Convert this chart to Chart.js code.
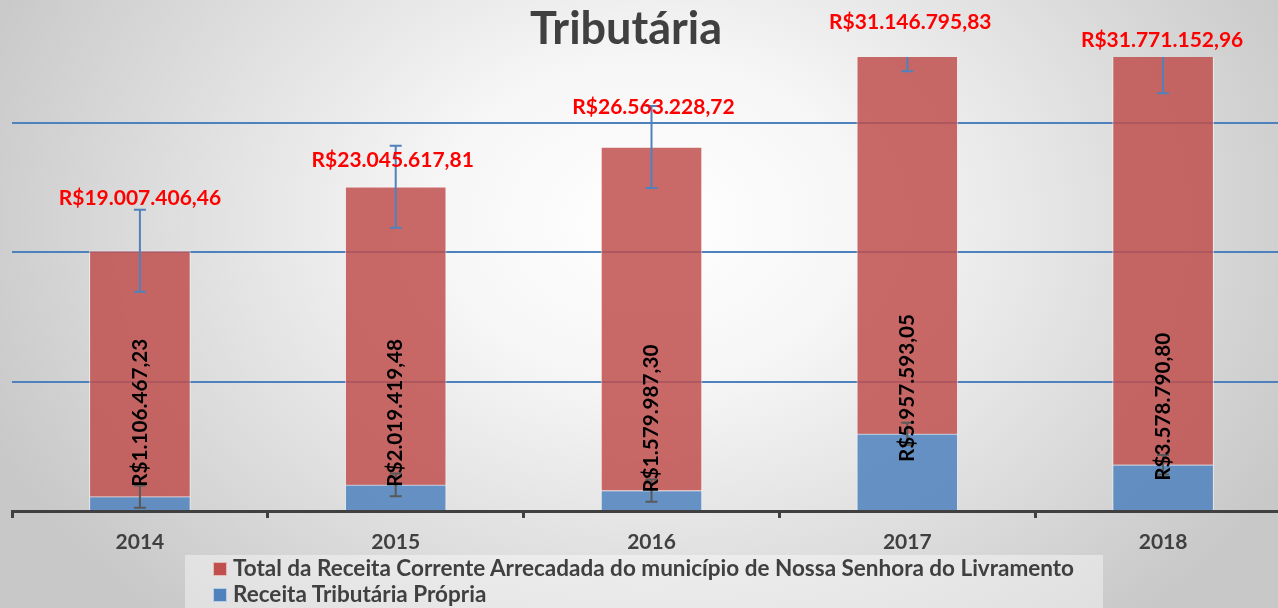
<!DOCTYPE html>
<html>
<head>
<meta charset="utf-8">
<script src="https://cdn.jsdelivr.net/npm/chart.js@4.4.1/dist/chart.umd.min.js"></script>
<style>
  html, body { margin: 0; padding: 0; width: 1278px; height: 608px; overflow: hidden; }
  body {
    position: relative;
    font-family: Lato, "Open Sans", sans-serif;
    background: radial-gradient(ellipse 720px 540px at 650px 220px, #ffffff 0%, #f6f6f6 30%, #c8c8c8 100%);
  }
  #wrap { position: absolute; left: 0; top: 0; width: 1300px; height: 608px; }
  #title {
    position: absolute; left: 0; top: 5px; width: 1252px; text-align: center;
    font: bold 45px/45px Lato, sans-serif; color: #404040;
  }
  #legend {
    position: absolute; left: 185px; top: 555px; width: 918px; height: 60px;
    background: rgba(255, 255, 255, 0.4);
    font: bold 22.5px/26px Lato, sans-serif; color: #404040;
  }
  #legend div { position: relative; padding-left: 48px; white-space: nowrap; }
  #legend span {
    position: absolute; left: 28px; top: 7px; width: 14px; height: 14px;
    box-sizing: border-box; border: 1px solid rgba(255, 255, 255, 0.6);
  }
</style>
</head>
<body>
<div id="wrap"><canvas id="chart"></canvas></div>
<div id="title">Tributária</div>
<div id="legend"></div>
<script>
// valores
const years = ["2014", "2015", "2016", "2017", "2018"]
const receitaTotal = [19007406.46, 23045617.81, 26563228.72, 31146795.83, 31771152.96]
const receitaPropria = [1106467.23, 2019419.48, 1579987.30, 5957593.05, 3578790.80]
const erroTotal = [3170000, 3170000, 3170000, 3100000, 3050000]
const erroPropria = [860000, 880000, 860000, 860000, 760000]
const gridValues = [0, 10000000, 20000000, 30000000]

const nomeTotal = "Total da Receita Corrente Arrecadada do município de Nossa Senhora do Livramento"
const nomePropria = "Receita Tributária Própria"

// label tweaks (px), the original chart had them nudged by hand
const redLabelShift = [[0, -53], [-3, -27], [2, -40], [3, -9], [-1, -14]]
const blackLabelShift = [-10, 2, 2, 28, 16]

function brl(v) {
  const parts = v.toFixed(2).split(".")
  const inteiro = parts[0].replace(/\B(?=(\d{3})+(?!\d))/g, ".")
  return "R$" + inteiro + "," + parts[1]
}

function drawErr(ctx, cx, yScale, value, err, color) {
  const top = yScale.getPixelForValue(value + err)
  const bot = yScale.getPixelForValue(value - err)
  ctx.strokeStyle = color
  ctx.beginPath()
  ctx.moveTo(cx, top); ctx.lineTo(cx, bot)
  ctx.moveTo(cx - 6, top); ctx.lineTo(cx + 6, top)
  ctx.moveTo(cx - 6, bot); ctx.lineTo(cx + 6, bot)
  ctx.stroke()
}

const extras = {
  id: "extras",
  afterDatasetsDraw(chart) {
    const { ctx, chartArea, scales: { x, y } } = chart

    // error bars, clipped like in the original
    ctx.save()
    ctx.beginPath()
    ctx.rect(chartArea.left, chartArea.top, chartArea.right - chartArea.left, chartArea.bottom - chartArea.top)
    ctx.clip()
    ctx.lineWidth = 2
    years.forEach((yr, i) => {
      const cx = x.getPixelForValue(i)
      drawErr(ctx, cx, y, receitaPropria[i], erroPropria[i], "#595959")
      drawErr(ctx, cx, y, receitaPropria[i] + receitaTotal[i], erroTotal[i], "#4f81bd")
    })
    ctx.restore()

    // data labels
    ctx.save()
    years.forEach((yr, i) => {
      const cx = x.getPixelForValue(i)
      const topY = y.getPixelForValue(receitaPropria[i] + receitaTotal[i])
      ctx.font = "bold 21px Lato"
      ctx.fillStyle = "#ff0000"
      ctx.textAlign = "center"
      ctx.textBaseline = "middle"
      ctx.fillText(brl(receitaTotal[i]), cx + redLabelShift[i][0], topY + redLabelShift[i][1])

      const baseY = y.getPixelForValue(receitaPropria[i]) + blackLabelShift[i]
      ctx.save()
      ctx.translate(cx, baseY)
      ctx.rotate(-Math.PI / 2)
      ctx.font = "bold 20.7px Lato"
      ctx.fillStyle = "#000000"
      ctx.textAlign = "left"
      ctx.textBaseline = "middle"
      ctx.fillText(brl(receitaPropria[i]), 0, 0)
      ctx.restore()
    })
    ctx.restore()
  }
}

new Chart(document.getElementById("chart"), {
  type: "bar",
  data: {
    labels: years,
    datasets: [
      {
        label: nomePropria,
        data: receitaPropria,
        backgroundColor: "rgba(79, 129, 189, 0.85)",
        borderColor: "rgba(255, 255, 255, 0.55)",
        borderWidth: 1,
        barThickness: 101
      },
      {
        label: nomeTotal,
        data: receitaTotal,
        backgroundColor: "rgba(192, 80, 77, 0.85)",
        borderColor: "rgba(255, 255, 255, 0.55)",
        borderWidth: 1,
        barThickness: 101
      }
    ]
  },
  options: {
    responsive: true,
    maintainAspectRatio: false,
    animation: false,
    layout: { padding: { left: 12, right: 9, top: 57, bottom: 0 } },
    plugins: {
      legend: { display: false },
      tooltip: { enabled: false },
      title: { display: false }
    },
    scales: {
      x: {
        stacked: true,
        border: { color: "#404040", width: 3 },
        grid: { offset: true, drawOnChartArea: false, drawTicks: true, tickLength: 7, tickWidth: 3, tickColor: "#404040" },
        ticks: { color: "#404040", font: { family: "Lato", size: 21, weight: "bold" }, padding: 12 },
        afterFit: s => { s.height = 97 }
      },
      y: {
        stacked: true,
        min: 0,
        max: 35100000,
        border: { display: false },
        grid: {
          color: c => c.tick.value === 0 ? "rgba(0,0,0,0)" : "#4f81bd",
          lineWidth: 2,
          drawTicks: false
        },
        ticks: { display: false },
        afterBuildTicks: s => { s.ticks = gridValues.map(v => ({ value: v })) },
        afterFit: s => { s.width = 0 }
      }
    }
  },
  plugins: [extras]
})

// legend, listed top to bottom like the original
const legend = document.getElementById("legend")
;[[nomeTotal, "#c0504d"], [nomePropria, "#4f81bd"]].forEach(([nome, cor]) => {
  const row = document.createElement("div")
  row.innerHTML = `<span style="background:${cor}"></span>${nome}`
  legend.appendChild(row)
})
</script>
</body>
</html>
